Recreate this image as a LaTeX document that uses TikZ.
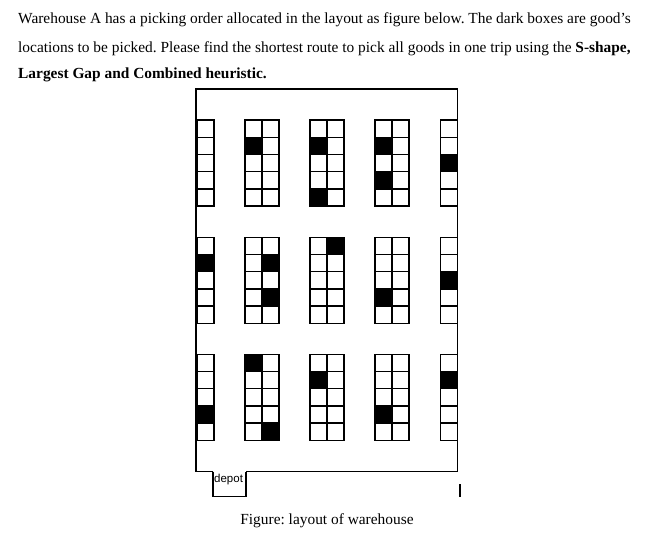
\documentclass[tikz,border=0pt]{standalone}
\usepackage{fontspec}
\setmainfont{Liberation Serif}
\setsansfont{Liberation Sans}
\frenchspacing
\begin{document}
\begin{tikzpicture}[x=1pt,y=-1pt,
  txt/.style={anchor=base west,inner sep=0pt,font=\fontsize{15.4}{18}\selectfont},
  cell/.style={draw=black,line width=1.4pt},
  dark/.style={fill=black}]
\useasboundingbox (0,0) rectangle (672,541);
\node[txt] (l1) at (18,23) {Warehouse A has a picking order allocated in the layout as figure below. The dark boxes are good’s};
\node[txt] (l2) at (18,52) {locations to be picked. Please find the shortest route to pick all goods in one trip using the \textbf{S-shape,}};
\node[txt] (l3) at (18,78) {\textbf{Largest Gap and Combined heuristic.}};
% outer warehouse
\draw[line width=1.3pt] (213,471.5) -- (196,471.5) -- (196,89) -- (457.5,89) -- (457.5,471.5) -- (246,471.5);
\draw[line width=1.3pt] (213,471.5) -- (213,496.5) -- (246,496.5) -- (246,471.5);
\node[anchor=north west,inner sep=1pt,font=\sffamily\fontsize{11.5}{13}\selectfont] (depot) at (213,473) {depot};
\draw[line width=1.3pt] (460,484) -- (460,497);
% blocks
\foreach \y in {120,237.3,354.3}{
  \foreach \c in {0,...,4}{
    \draw[cell] (197,\y+17.2*\c) rectangle ++(17,17.2);
    \draw[cell] (440.5,\y+17.2*\c) rectangle ++(17,17.2);
    \foreach \x in {245,310,375}{
      \draw[cell] (\x,\y+17.2*\c) rectangle ++(17,17.2);
      \draw[cell] (\x+17,\y+17.2*\c) rectangle ++(17,17.2);
    }
  }
}
\foreach \x/\y/\r in {245/120/1, 310/120/1, 310/120/4, 375/120/1, 375/120/3, 440.5/120/2,
  197/237.3/1, 262/237.3/1, 262/237.3/3, 327/237.3/0, 375/237.3/3, 440.5/237.3/2,
  197/354.3/3, 245/354.3/0, 262/354.3/4, 310/354.3/1, 375/354.3/3, 440.5/354.3/1}{
  \draw[cell,dark] (\x,\y+17.2*\r) rectangle ++(17,17.2);
}
\node[anchor=base,inner sep=0pt,font=\fontsize{15.4}{18}\selectfont] (cap) at (327,524) {Figure: layout of warehouse};
\end{tikzpicture}
\end{document}
